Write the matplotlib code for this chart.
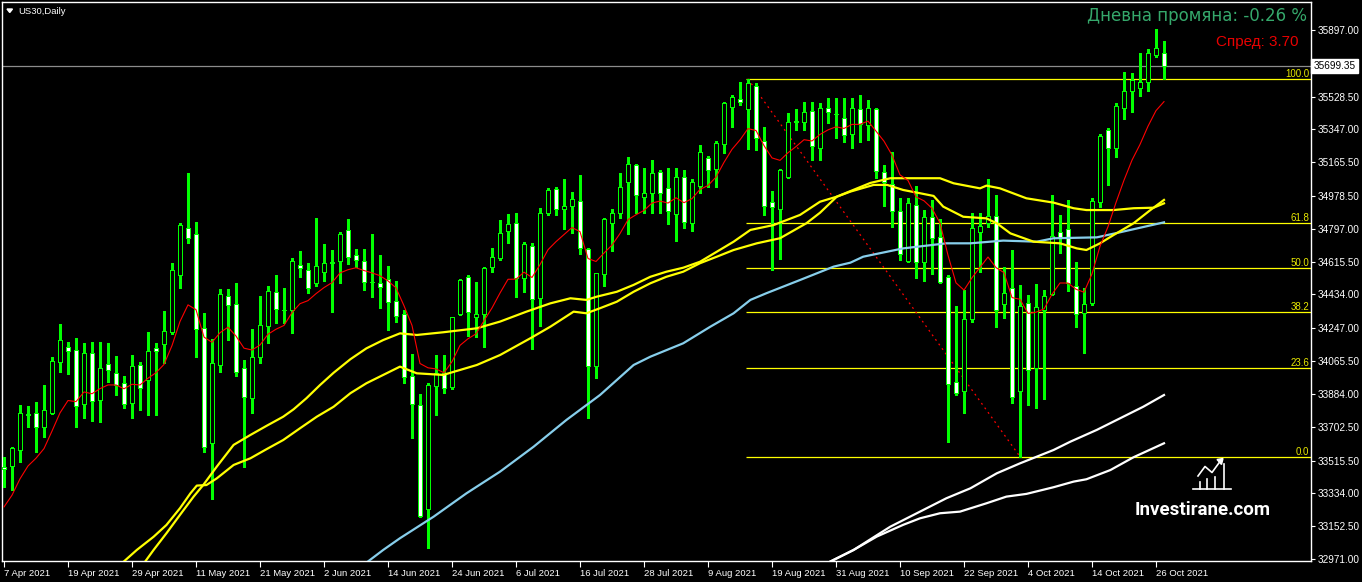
import numpy as np
import pandas as pd
import matplotlib
matplotlib.use("Agg")
import matplotlib.pyplot as plt
from matplotlib.transforms import blended_transform_factory
from matplotlib.patches import Polygon

plt.rcParams['font.family'] = ['Liberation Sans', 'DejaVu Sans']

# ---------------- data (US30 daily, 7 Apr 2021 - 27 Oct 2021) ----------------
opens = [33482, 33485, 33574, 33772, 33777, 33699, 33780, 34059, 34145, 34125,
         33827, 34109, 33850, 34048, 33998, 33943, 33832, 34042, 33961, 34140,
         34158, 34228, 34540, 34800, 34767, 34247, 33611, 34044, 34426, 34380,
         34026, 33860, 34087, 34261, 34446, 34349, 34348, 34595, 34569, 34496,
         34560, 34611, 34619, 34789, 34651, 34618, 34504, 34499, 34518, 34398,
         34324, 33985, 33821, 33248, 33928, 33998, 33921, 34324, 34532, 34308,
         34324, 34588, 34637, 34787, 34828, 34523, 34704, 34413, 34886, 35016,
         34905, 34925, 34953, 34684, 34038, 34546, 34831, 34883, 35058, 35148,
         34972, 34994, 35113, 35021, 34877, 35085, 34828, 35036, 35191, 35126,
         35266, 35473, 35514, 35458, 35587, 35283, 34947, 34905, 35085, 35391,
         35390, 35451, 35243, 35464, 35432, 35408, 35320, 35458, 35371, 35458,
         35113, 35043, 34897, 34621, 34927, 34615, 34861, 34750, 34529, 33948,
         33902, 34297, 34778, 34831, 34870, 34380, 34472, 33902, 34389, 34029,
         34348, 34435, 34781, 34795, 34483, 34330, 34385, 34947, 35344, 35243,
         35464, 35561, 35574, 35608, 35759, 35768]
highs = [33537, 33592, 33823, 33817, 33841, 33933, 34090, 34271, 34170, 34192,
         34164, 34170, 34173, 34164, 34095, 33983, 34099, 34062, 34228, 34164,
         34343, 34607, 34831, 35108, 34837, 34330, 34188, 34464, 34463, 34496,
         34072, 34243, 34427, 34483, 34542, 34472, 34634, 34675, 34607, 34855,
         34713, 34680, 34781, 34850, 34686, 34686, 34769, 34651, 34592, 34509,
         34348, 34105, 33884, 33943, 34099, 34099, 34311, 34520, 34542, 34501,
         34588, 34690, 34846, 34877, 34883, 34723, 34717, 34914, 35025, 35027,
         35071, 34999, 35095, 34690, 34554, 34859, 34905, 35104, 35193, 35156,
         35132, 35178, 35123, 35132, 35132, 35123, 35073, 35261, 35202, 35283,
         35500, 35537, 35608, 35626, 35602, 35362, 35006, 35126, 35436, 35458,
         35500, 35497, 35495, 35519, 35519, 35519, 35519, 35537, 35510, 35464,
         35150, 35220, 34966, 34966, 35036, 34901, 34957, 34852, 34542, 34370,
         34459, 34883, 34883, 35071, 34984, 34584, 34680, 34486, 34431, 34492,
         34459, 34984, 34874, 34957, 34615, 34468, 34966, 35322, 35353, 35495,
         35666, 35657, 35768, 35790, 35901, 35836]
lows = [33368, 33353, 33509, 33703, 33564, 33644, 33775, 34007, 33994, 33699,
        33749, 33736, 33727, 33952, 33878, 33805, 33749, 33795, 33767, 33767,
        34053, 34214, 34472, 34717, 34087, 33564, 33301, 34007, 34182, 33985,
        33478, 33777, 34053, 34164, 34275, 34275, 34223, 34532, 34444, 34481,
        34509, 34339, 34499, 34601, 34584, 34459, 34422, 34358, 34238, 34284,
        33943, 33639, 33205, 33030, 33767, 33888, 33912, 34320, 34204, 34201,
        34145, 34560, 34625, 34717, 34422, 34449, 34131, 34261, 34874, 34874,
        34795, 34772, 34658, 33749, 33970, 34481, 34675, 34855, 34769, 34883,
        34883, 34883, 34883, 34822, 34731, 34803, 34787, 34994, 35030, 35030,
        35215, 35362, 35482, 35237, 35233, 34874, 34569, 34629, 35080, 35344,
        35344, 35178, 35178, 35381, 35298, 35279, 35246, 35279, 35288, 35080,
        34923, 34809, 34625, 34615, 34527, 34510, 34547, 34496, 33620, 33878,
        33777, 34284, 34557, 34809, 34252, 34302, 33832, 33537, 33823, 33805,
        33854, 34430, 34662, 34455, 34252, 34109, 34376, 34916, 35040, 35196,
        35403, 35445, 35532, 35560, 35746, 35624]
closes = [33467, 33583, 33777, 33770, 33699, 33795, 34066, 34182, 34121, 33817,
          34109, 33845, 34026, 34016, 33933, 33828, 34037, 33918, 34120, 34123,
          34230, 34569, 34818, 34745, 34243, 33592, 34053, 34435, 34376, 34007,
          33869, 34087, 34265, 34453, 34352, 34347, 34619, 34579, 34468, 34592,
          34607, 34609, 34767, 34643, 34625, 34505, 34502, 34475, 34394, 34317,
          33976, 33827, 33210, 33933, 33998, 33915, 34308, 34514, 34335, 34324,
          34579, 34643, 34772, 34822, 34523, 34712, 34409, 34883, 35012, 34905,
          34923, 34960, 34690, 34038, 34551, 34850, 34883, 35027, 35154, 34984,
          34994, 35104, 34994, 34896, 35085, 34833, 35054, 35220, 35122, 35270,
          35491, 35525, 35497, 35602, 35298, 34925, 34916, 35122, 35386, 35389,
          35442, 35255, 35464, 35445, 35430, 35316, 35464, 35377, 35464, 35117,
          35058, 34896, 34658, 34942, 34612, 34864, 34745, 34505, 33937, 33888,
          34297, 34800, 34814, 34870, 34348, 34444, 33865, 34370, 34016, 34363,
          34426, 34759, 34748, 34496, 34326, 34380, 34953, 35311, 35243, 35478,
          35560, 35620, 35611, 35768, 35796, 35699.35]

# short EMA (red) - period 9, seeded with its value read at the first bar
ema_period = 9
ema_seed = 33259

# slower moving averages: (bar index, price)
yellow_a_idx = [14.9, 16.6, 18.7, 20.3, 22.0, 23.3, 24.1, 25.3, 26.6, 28.7, 30.8, 32.8, 34.9,
                37.0, 39.1, 41.2, 43.3, 45.3, 47.4, 49.5, 51.6, 54.9, 59.1, 62.0, 65.8, 68.3,
                71.2, 72.8, 74.5, 76.6, 78.7, 80.8, 82.8, 84.9, 87.0, 89.1, 91.2, 94.1, 97.0,
                100.3, 102.0, 104.1, 108.3, 110.8, 117.0, 118.7, 122.0, 122.8, 124.5, 127.8,
                131.2, 133.7, 135.3, 138.7, 141.2, 143.7, 145.0]
yellow_a_val = [32954, 33021, 33094, 33159, 33252, 33334, 33377, 33380, 33417, 33491, 33528,
                33578, 33629, 33694, 33758, 33813, 33888, 33943, 33989, 34035, 33998, 33989,
                34044, 34099, 34192, 34256, 34339, 34330, 34358, 34394, 34449, 34496, 34532,
                34560, 34607, 34643, 34680, 34717, 34745, 34828, 34886, 34975, 35051, 35077,
                35077, 35049, 35021, 35036, 35021, 34966, 34942, 34911, 34901, 34901, 34911,
                34914, 34938]
yellow_b_idx = [17.6, 18.7, 20.3, 22.0, 23.7, 24.9, 26.6, 28.7, 30.8, 32.8, 34.9, 36.2, 37.8,
                39.5, 41.2, 43.3, 45.3, 47.4, 49.5, 51.6, 54.9, 59.1, 62.0, 65.3, 68.3, 70.8,
                72.8, 74.1, 76.6, 78.7, 80.8, 82.8, 84.9, 87.0, 91.2, 93.3, 96.2, 99.5, 102.0,
                104.1, 105.8, 108.7, 110.4, 112.4, 114.5, 116.2, 117.4, 119.9, 122.8, 124.1,
                125.8, 128.7, 132.0, 134.1, 135.3, 137.0, 138.7, 141.2, 143.3, 145.0]
yellow_b_val = [32954, 33021, 33113, 33215, 33316, 33380, 33482, 33602, 33657, 33707, 33758,
                33799, 33860, 33933, 34001, 34076, 34136, 34182, 34219, 34210, 34225, 34247,
                34284, 34339, 34385, 34413, 34404, 34422, 34449, 34487, 34532, 34560, 34582,
                34615, 34726, 34791, 34818, 34874, 34947, 34975, 35003, 35040, 35040, 35012,
                34994, 34979, 34920, 34864, 34855, 34828, 34772, 34726, 34717, 34689, 34680,
                34717, 34763, 34828, 34901, 34957]
blue_idx = [45.4, 47.4, 49.5, 53.7, 57.8, 62.0, 66.2, 70.3, 74.5, 78.7, 80.8, 84.9, 88.3, 91.2,
            93.3, 95.3, 99.5, 103.7, 105.8, 107.4, 112.4, 117.8, 120.8, 124.9, 129.1, 131.2,
            136.6, 139.5, 145.0]
blue_val = [32954, 33021, 33086, 33205, 33334, 33454, 33592, 33740, 33878, 34044, 34090, 34164,
            34256, 34330, 34404, 34441, 34514, 34588, 34610, 34643, 34689, 34717, 34717, 34732,
            34726, 34745, 34750, 34778, 34833]
white_a_idx = [102.8, 106.2, 108.3, 110.8, 114.5, 117.8, 120.8, 124.1, 127.0, 131.2, 133.3,
               136.6, 139.5, 142.4, 145.0]
white_a_val = [32946, 33021, 33080, 33150, 33233, 33307, 33362, 33445, 33500, 33574, 33620,
               33685, 33749, 33813, 33878]
white_b_idx = [102.8, 106.2, 109.1, 112.4, 114.5, 117.0, 119.5, 122.8, 125.3, 127.8, 131.2,
               133.7, 135.3, 138.3, 141.2, 145.0]
white_b_val = [32946, 33021, 33095, 33160, 33196, 33224, 33233, 33279, 33316, 33331, 33368,
               33399, 33412, 33463, 33534, 33611]

# Fibonacci retracement between swing high bar and swing low bar
fib_high_bar = 93
fib_low_bar = 127
fib_ratios = [1.0, 0.618, 0.5, 0.382, 0.236, 0.0]
fib_labels = ["100.0", "61.8", "50.0", "38.2", "23.6", "0.0"]

ytick_values = [35897.00, 35528.50, 35347.00, 35165.50, 34978.50, 34797.00, 34615.50,
                34434.00, 34247.00, 34065.50, 33884.00, 33702.50, 33515.50, 33334.00,
                33152.50, 32971.00]
first_day = "2021-04-07"
last_day = "2021-10-27"
label_every = 8

title_text = "US30,Daily"
change_text = "Дневна промяна: -0.26 %"
spread_text = "Спред: 3.70"
logo_text = "Investirane.com"

# ---------------- figure ----------------
W, H = 1362, 582
fig = plt.figure(figsize=(W / 100, H / 100), dpi=100, facecolor="black")
ax = fig.add_axes([2 / W, 1 - 561 / H, 1309 / W, 559 / H], facecolor="black")

n = len(closes)
idx = np.arange(n)
o = np.array(opens, float)
h = np.array(highs, float)
l = np.array(lows, float)
c = np.array(closes, float)

ax.set_xlim(-0.25, 163.375)
ax.set_ylim(32959.9, 36051.7)

green = "#00FF00"
# wicks
ax.vlines(idx, l, h, color=green, lw=0.8, zorder=3, antialiased=False)
# bodies
bull = c >= o
ax.bar(idx, np.abs(c - o), bottom=np.minimum(o, c), width=0.56,
       color=np.where(bull, "black", "white"), edgecolor=green, linewidth=0.72,
       zorder=4, antialiased=False)

# Fibonacci
blend = blended_transform_factory(ax.transAxes, ax.transData)
fib_hi = h[fib_high_bar]
fib_lo = l[fib_low_bar]
for r, lab in zip(fib_ratios, fib_labels):
    lvl = fib_lo + (fib_hi - fib_lo) * r
    ax.hlines(lvl, fib_high_bar - 0.2, 163.375, color="#FFFF00", lw=0.9, zorder=1.5)
    ax.text(0.9985, lvl, lab, transform=blend, ha="right", va="bottom",
            fontsize=7, color="#E8E800", zorder=6)
ax.plot([fib_high_bar, fib_low_bar], [fib_hi, fib_lo], color="red", lw=0.9,
        linestyle=(0, (1.5, 3)), zorder=1.6)

# bid line
ax.axhline(c[-1], color="#8C8C8C", lw=0.9, zorder=1.4)

# moving averages
ema = [ema_seed]
alpha = 2.0 / (ema_period + 1)
for v in c[1:]:
    ema.append(ema[-1] + alpha * (v - ema[-1]))
ax.plot(white_a_idx, white_a_val, color="white", lw=1.6, zorder=5)
ax.plot(white_b_idx, white_b_val, color="white", lw=1.6, zorder=5)
ax.plot(blue_idx, blue_val, color="#87CEEB", lw=1.6, zorder=5)
ax.plot(yellow_a_idx, yellow_a_val, color="#FFFF00", lw=1.6, zorder=5)
ax.plot(yellow_b_idx, yellow_b_val, color="#FFFF00", lw=1.6, zorder=5)
ax.plot(idx, ema, color="#FF0000", lw=0.8, zorder=5.5)

# axes styling
for sp in ax.spines.values():
    sp.set_color("white")
    sp.set_linewidth(1)
ax.yaxis.tick_right()
ax.set_yticks(ytick_values)
ax.set_yticklabels([f"{v:.2f}" for v in ytick_values])
ax.tick_params(axis="y", colors="white", length=3, width=0.8, pad=2, labelsize=7.2)

dates = pd.bdate_range(first_day, last_day)
tick_pos = idx[::label_every]
ax.set_xticks(tick_pos)
ax.set_xticklabels([f"{d.day} {d.strftime('%b')} {d.year}" for d in dates[::label_every]])
ax.tick_params(axis="x", colors="white", length=4, width=0.8, pad=1.5, labelsize=6.8)
for t in ax.get_xticklabels():
    t.set_ha("left")

# current price box
ax.text(1.0 + 2.5 / 1309, c[-1], f"{c[-1]:.2f}", transform=blend, ha="left", va="center",
        fontsize=7.2, color="black", zorder=7, clip_on=False,
        bbox=dict(boxstyle="square,pad=0.22", fc="white", ec="white"))

# ---------------- overlay (texts, logo) ----------------
ov = fig.add_axes([0, 0, 1, 1])
ov.set_xlim(0, W)
ov.set_ylim(H, 0)
ov.axis("off")
ov.patch.set_visible(False)

ov.text(1307, 21, change_text, ha="right", va="baseline", fontsize=12,
        color="#35A86B", family="DejaVu Sans")
ov.text(1299, 45.7, spread_text, ha="right", va="baseline", fontsize=11,
        color="#E80000", family="Liberation Sans")
ov.text(18, 14.5, title_text, ha="left", va="baseline", fontsize=6.8, color="white")
ov.add_patch(Polygon([[7, 9], [12.5, 9], [9.75, 12.5]], closed=True, color="white"))

ov.text(1135, 515, logo_text, ha="left", va="baseline", fontsize=13.5, weight="bold",
        family="Roboto", color="white")
ov.plot([1193, 1231], [489, 489], color="white", lw=1.2)
for bx, top in zip([1199.5, 1207, 1215, 1223.5], [481.5, 478.5, 476.5, 463.5]):
    ov.plot([bx, bx], [489, top], color="white", lw=1.2)
ov.plot([1198, 1205, 1212, 1220], [476, 466.5, 472.5, 461.5], color="white", lw=1.2)
ov.add_patch(Polygon([[1223, 458.5], [1217, 459.5], [1221.5, 464.5]], closed=True, color="white"))

fig.savefig("out.png", dpi=100, facecolor="black")
